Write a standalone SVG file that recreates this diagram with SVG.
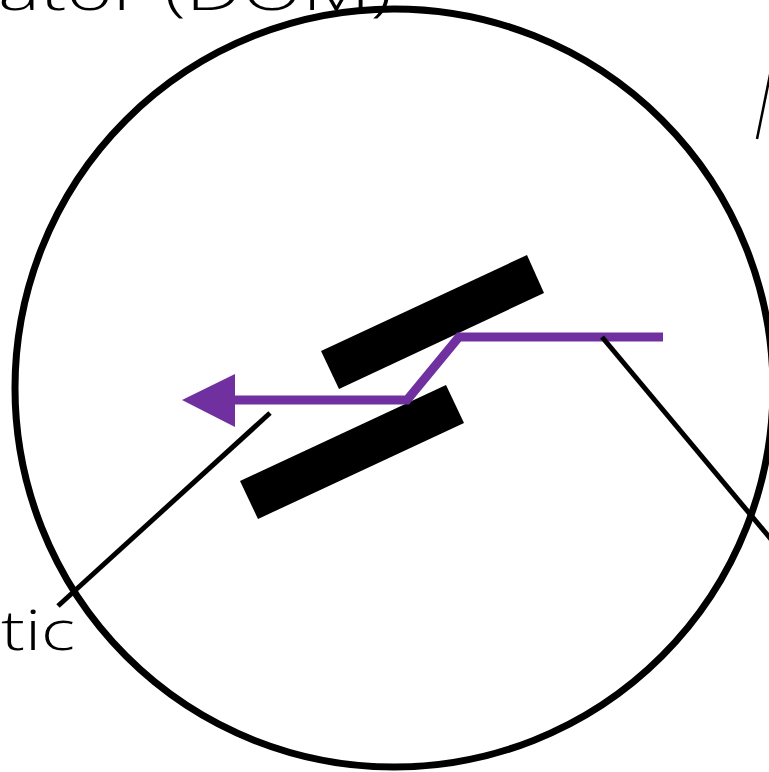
<svg xmlns="http://www.w3.org/2000/svg" width="769" height="772" viewBox="0 0 769 772">
<style>
.lbl{font-family:"Open Sans","Liberation Sans",sans-serif;font-weight:300;font-size:56px;fill:#000}
.leader{stroke:#000;stroke-width:5;fill:none}
.plate{fill:#000}
.ray{stroke:#7030a0;stroke-width:9;fill:none;stroke-linejoin:miter}
</style>
<rect width="769" height="772" fill="#fff"/>
<g id="texts">
<text class="lbl" x="-2" y="10" textLength="394" lengthAdjust="spacingAndGlyphs">ator (DOM)</text>
<text class="lbl" x="1" y="650" textLength="74" lengthAdjust="spacingAndGlyphs">tic</text>
</g>
<g id="lens">
<circle cx="394" cy="388" r="379" fill="none" stroke="#000" stroke-width="7"/>
</g>
<g id="plates">
<polygon class="plate" points="321,351 527,255 544,293 339,389"/>
<polygon class="plate" points="240,481 446,385 464,423 258,519"/>
</g>
<g id="connectors">
<polyline class="ray" points="663,337 459,337 407,400 235,400"/>
<polygon points="235,374 182,400 235,427" fill="#7030a0"/>
<line class="leader" x1="270" y1="413" x2="58" y2="606"/>
<line class="leader" x1="602" y1="337" x2="775" y2="544"/>
<line x1="757" y1="139" x2="771" y2="70" stroke="#000" stroke-width="2.5"/>
</g>
</svg>
